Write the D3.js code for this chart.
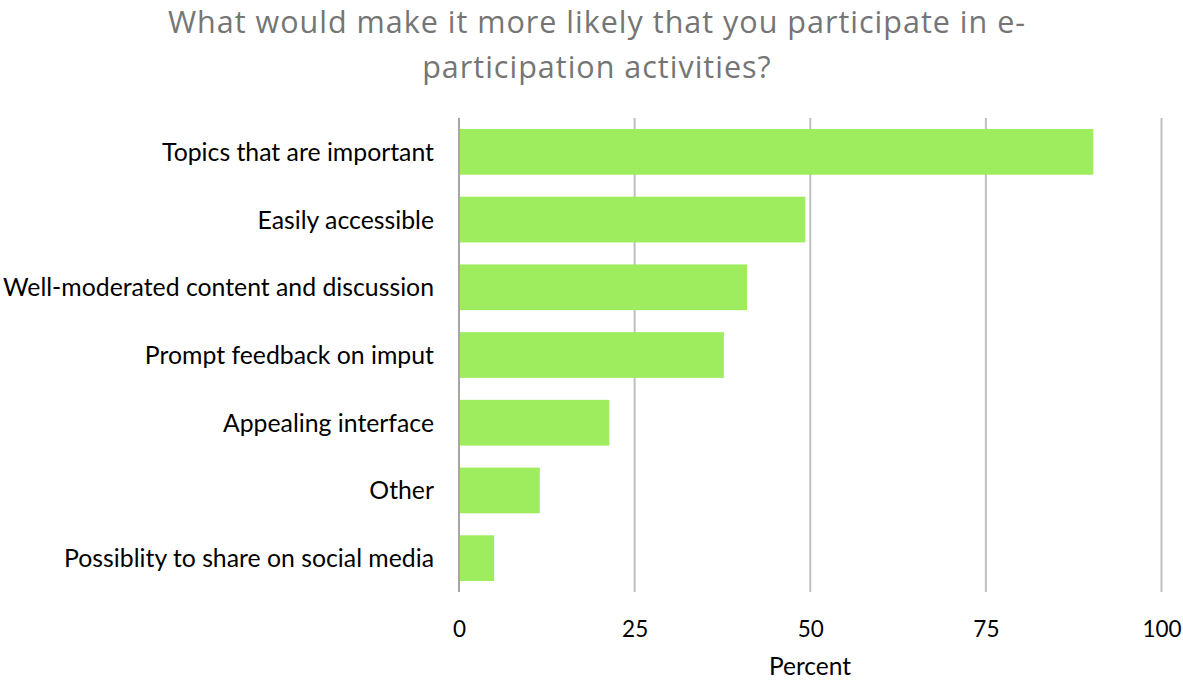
<!DOCTYPE html>
<html><head><meta charset="utf-8">
<script src="https://cdn.jsdelivr.net/npm/d3@7"></script>
<style>body{margin:0;background:#fff}</style>
</head><body>
<svg id="c" width="1183" height="680"></svg>
<script>
const categories = ["Topics that are important","Easily accessible ","Well-moderated content and discussion","Prompt feedback on imput","Appealing interface","Other","Possiblity to share on social media"];
const values = [90.3, 49.3, 41.0, 37.7, 21.4, 11.5, 5.0];
const ticks = [0, 25, 50, 75, 100];
const titleLines = ["What would make it more likely that you participate in e-","participation activities?"];
const xTitle = "Percent";

const svg = d3.select("#c");
const font = "Lato, 'Open Sans', sans-serif";
const tfont = "'Open Sans', sans-serif";
const x = d3.scaleLinear().domain([0,100]).range([459,1161.5]);
const y = d3.scaleBand().domain(categories).range([118,592]).paddingInner(0.325).paddingOuter(0.1625);

svg.append("g").selectAll("line").data(ticks).join("line")
  .attr("x1",d=>x(d)).attr("x2",d=>x(d)).attr("y1",118).attr("y2",592)
  .attr("stroke",d=>d===0?"#a6a6a6":"#bfbfbf").attr("stroke-width",2);

svg.append("g").selectAll("rect").data(values).join("rect")
  .attr("x",x(0)+1).attr("y",(d,i)=>y(categories[i])).attr("height",y.bandwidth())
  .attr("width",d=>x(d)-x(0)-1).attr("fill","#9ded5e");

const ax = d3.axisBottom(x).tickValues(ticks).tickSize(0).tickPadding(0);
const g = svg.append("g").attr("transform","translate(0,637)").call(ax);
g.select(".domain").remove();
g.selectAll("text").attr("font-family",font).attr("font-size",22.5).attr("fill","#000").attr("dy",0);

const ay = d3.axisLeft(y).tickSize(0).tickPadding(0);
const gy = svg.append("g").attr("transform","translate(434,0)").call(ay);
gy.select(".domain").remove();
gy.selectAll("text").attr("font-family",font).attr("font-size",24.8).attr("fill","#000").attr("dy","0.36em");

svg.append("text").attr("x",810).attr("y",675).attr("text-anchor","middle")
  .attr("font-family",font).attr("font-size",24.5).attr("fill","#000").text(xTitle);

svg.append("g").selectAll("text").data(titleLines).join("text")
  .attr("x",597).attr("y",(d,i)=>33+i*45).attr("text-anchor","middle")
  .attr("font-family",tfont).attr("font-size",30.5).attr("letter-spacing",1)
  .attr("fill","#757575").text(d=>d);
</script>
</body></html>
